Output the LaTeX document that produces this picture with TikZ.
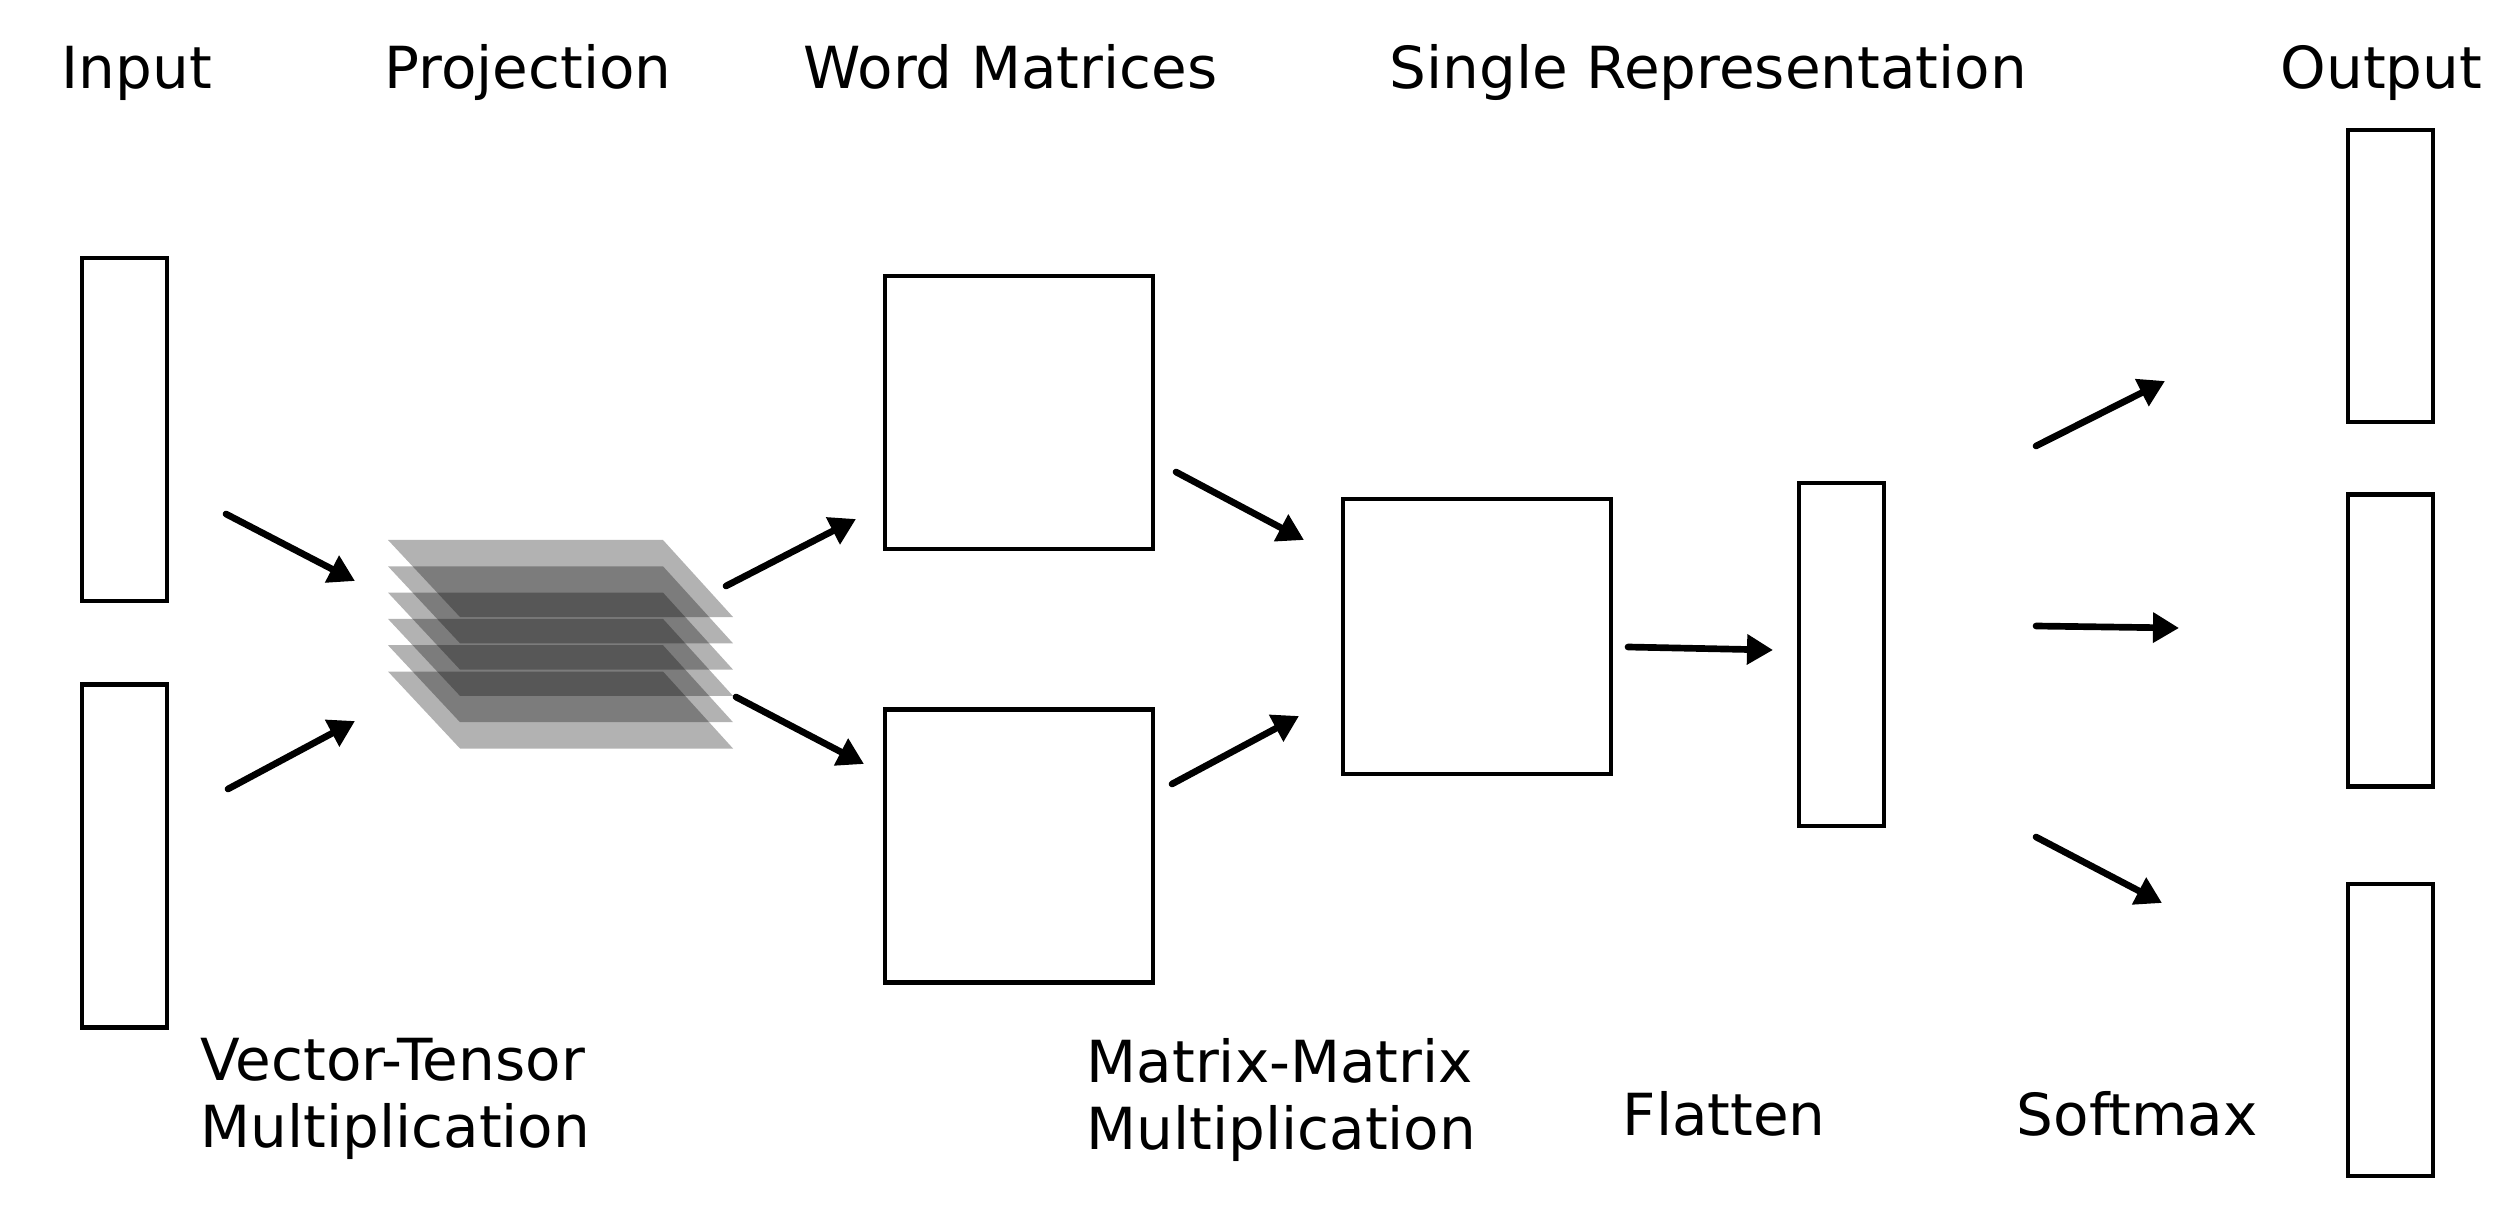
\documentclass[tikz,border=0pt]{standalone}
\usepackage{fontspec}
\setmainfont{DejaVu Sans}
\usetikzlibrary{arrows.meta, positioning}

\begin{document}
\begin{tikzpicture}[
		font=\fontsize{16.5}{19}\selectfont,
		node distance=1cm,
		box/.style={draw, rectangle, line width=1.25pt, inner sep=0pt},
		vecbox/.style={box, minimum width=0.85cm, minimum height=3.43cm},
		outbox/.style={box, minimum width=0.85cm, minimum height=2.92cm},
		matbox/.style={box, minimum width=2.68cm, minimum height=2.73cm},
		headtxt/.style={anchor=base west, inner sep=0pt},
		foottxt/.style={anchor=north west, inner sep=0pt, align=left},
		arrow/.style={-{Triangle[length=0.26cm, width=0.29cm]}, line width=1.9pt, line cap=round},
		layer/.style={fill=black, fill opacity=0.3}
		]
		
		\useasboundingbox (0,0) rectangle (25.18,-12.16);
		
		% Headings
		\node (hin) [headtxt] at (0.61,-0.89) {Input};
		\node (hproj) [headtxt] at (3.84,-0.89) {Projection};
		\node (hword) [headtxt] at (8.03,-0.89) {Word Matrices};
		\node (hrep) [headtxt] at (13.89,-0.89) {Single Representation};
		\node (hout) [headtxt] at (22.80,-0.89) {Output};
		
		% Input
		\node (in1) [vecbox] at (1.245,-4.295) {};
		\node (in2) [vecbox, below=0.79cm of in1] {};
		
		% Projection tensor
		\coordinate (proj) at (3.88,-5.40);
		\foreach \i in {0,...,5}
			\fill[layer] ([yshift=-\i*0.263cm]proj) -- ++(2.75,0) -- ++(0.70,-0.77) -- ++(-2.73,0) -- cycle;
		
		% Word matrices
		\node (wm1) [matbox] at (10.19,-4.125) {};
		\node (wm2) [matbox, below=1.56cm of wm1] {};
		
		% Single representation
		\node (rep) [matbox, minimum height=2.75cm] at (14.77,-6.365) {};
		
		% Flatten
		\node (flat) [vecbox] at (18.415,-6.545) {};
		
		% Output
		\node (out1) [outbox] at (23.905,-2.76) {};
		\node (out2) [outbox, below=0.68cm of out1] {};
		\node (out3) [outbox, below=0.93cm of out2] {};
		
		% Captions
		\node (vt) [foottxt] at (2.00,-10.38) {Vector-Tensor\\Multiplication};
		\node (mm) [foottxt] at (10.86,-10.38) {Matrix-Matrix\\Multiplication};
		\node (fl) [headtxt] at (16.22,-11.35) {Flatten};
		\node (sm) [headtxt] at (20.16,-11.35) {Softmax};
		
		% Arrow ends
		\foreach \n/\tx/\ty/\hx/\hy in {
				1/2.26/-5.14/3.55/-5.81,
				2/2.28/-7.89/3.55/-7.21,
				3/7.26/-5.86/8.56/-5.19,
				4/7.36/-6.97/8.64/-7.64,
				5/11.76/-4.72/13.04/-5.40,
				6/11.72/-7.84/12.99/-7.16,
				7/16.28/-6.47/17.73/-6.50,
				8/20.36/-4.46/21.65/-3.81,
				9/20.36/-6.26/21.79/-6.28,
				10/20.36/-8.37/21.62/-9.03}{
			\coordinate (t\n) at (\tx,\ty);
			\coordinate (h\n) at (\hx,\hy);
		}
		
		% Arrows
		\foreach \n in {1,...,10}
			\draw[arrow] (t\n) -- (h\n);
		
	\end{tikzpicture}
\end{document}
